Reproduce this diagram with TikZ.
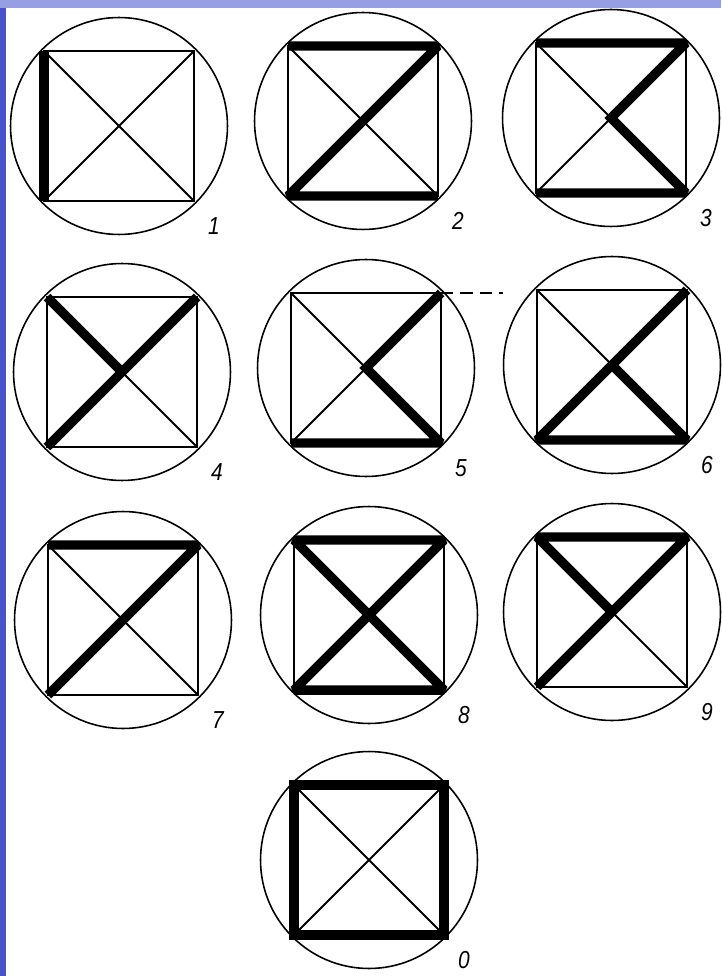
\documentclass[tikz,border=0pt]{standalone}
\usepackage{fontspec}
\setmainfont{Liberation Sans}
\usetikzlibrary{calc}

\definecolor{slidetop}{RGB}{150,158,228}
\definecolor{slideside}{RGB}{72,82,205}

% one digit frame: circle, square and both diagonals, with its number
\newcommand{\digitframe}[4]{%
  \coordinate (#1-c) at (#2,#3);
  \coordinate (#1-tl) at ($(#1-c)+(-75,-75)$);
  \coordinate (#1-tr) at ($(#1-c)+(75,-75)$);
  \coordinate (#1-bl) at ($(#1-c)+(-75,75)$);
  \coordinate (#1-br) at ($(#1-c)+(75,75)$);
  \draw[ringline] (#1-c) circle[radius=2.17cm];
  \draw[thinline] (#1-tl) rectangle (#1-br);
  \draw[thinline] (#1-tl) -- (#1-br) (#1-tr) -- (#1-bl);
  \node[digitlabel] (#1-num) at ($(#1-c)+(95,100)$) {#4};
}

\begin{document}
\begin{tikzpicture}[x=0.02cm,y=-0.02cm,
  ringline/.style={line width=0.9pt},
  thinline/.style={line width=1.1pt},
  boldline/.style={line width=5.4pt,line join=miter,miter limit=2},
  digitlabel/.style={font=\fontsize{14}{14}\selectfont\itshape,xscale=0.85,inner sep=0pt}]
\useasboundingbox (0,0) rectangle (721,976);
\fill[slideside] (0,0) rectangle (721,976);
\fill[slidetop] (0,0) rectangle (721,8);
\fill[white] (6,8) rectangle (721,976);

% row 1
\digitframe{d1}{119}{126}{1}
\digitframe{d2}{363}{121}{2}
\digitframe{d3}{611}{118}{3}
% row 2
\digitframe{d4}{122}{372}{4}
\digitframe{d5}{366}{368}{5}
\digitframe{d6}{612}{365}{6}
% row 3
\digitframe{d7}{123}{620}{7}
\digitframe{d8}{369}{615}{8}
\digitframe{d9}{612}{612}{9}
% last one
\digitframe{d0}{369}{860}{0}

% bold strokes of each digit
\draw[boldline] (d1-bl) -- (d1-tl);
\draw[boldline] (d2-tl) -- (d2-tr) -- (d2-bl) -- (d2-br);
\draw[boldline] (d3-tl) -- (d3-tr) -- (d3-c) -- (d3-br) -- (d3-bl);
\draw[boldline] (d4-tl) -- (d4-c); \draw[boldline] (d4-tr) -- (d4-bl);
\draw[boldline] (d5-tr) -- (d5-c) -- (d5-br) -- (d5-bl);
\draw[boldline] (d6-tr) -- (d6-bl) -- (d6-br) -- (d6-c);
\draw[boldline] (d7-tl) -- (d7-tr) -- (d7-bl);
\draw[boldline] (d8-tl) -- (d8-tr) -- (d8-bl) -- (d8-br) -- cycle;
\draw[boldline] (d9-bl) -- (d9-tr) -- (d9-tl) -- (d9-c);
\draw[boldline] (d0-tl) -- (d0-tr) -- (d0-br) -- (d0-bl) -- cycle;

% dashed guide from digit 5
\coordinate (d5-guide) at ($(d5-tr)+(62,0)$);
\draw[thinline,dash pattern=on 7pt off 4pt] (d5-tr) -- (d5-guide);
\end{tikzpicture}
\end{document}
